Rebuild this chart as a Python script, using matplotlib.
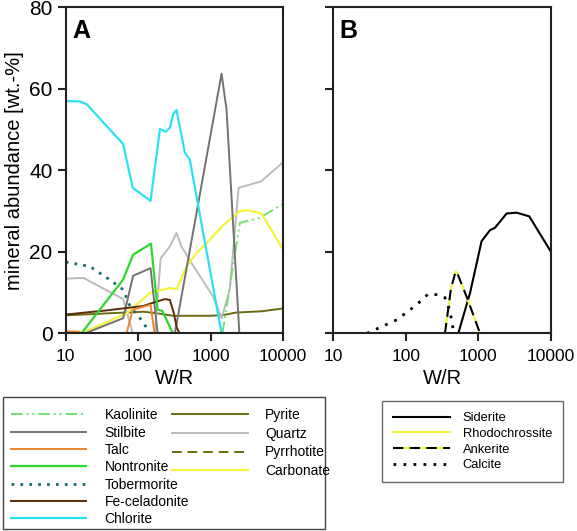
import matplotlib
matplotlib.use('Agg')
import matplotlib.pyplot as plt
from matplotlib.lines import Line2D
from matplotlib.patches import Rectangle

plt.rcParams['font.family'] = ['Liberation Sans', 'DejaVu Sans']

# === Panel A data (W/R, wt.-%) ===
kaolinite_x = [1450, 2520, 4700, 10000]
kaolinite_y = [0, 27.1, 28.3, 31.8]

stilbite_x = [18.5, 62, 85, 148, 185, 320, 1410, 1650, 2480]
stilbite_y = [0, 3.7, 14.1, 16.0, 0, 0, 63.7, 55.0, 0]

talc_x = [10, 15, 17, 69, 84, 148, 168]
talc_y = [0.5, 0.4, 0, 0, 5.8, 7.0, 0]

nontronite_x = [16.5, 62, 85, 150, 170, 185, 215, 300]
nontronite_y = [0, 13.2, 19.3, 22.0, 12.3, 5.8, 5.5, 0]

tobermorite_x = [10, 21.6, 40, 62, 77, 106, 137, 145]
tobermorite_y = [17.5, 16.4, 13.2, 10.7, 6.6, 3.7, 0.8, 0]

celadonite_x = [10, 40, 117, 180, 233, 273, 310, 340, 372]
celadonite_y = [4.6, 5.7, 6.7, 7.8, 8.4, 8.2, 4.9, 1.4, 0]

chlorite_x = [10, 15.7, 19.5, 62, 84, 148, 199, 240, 274, 304, 337, 440, 513, 1410]
chlorite_y = [57.0, 56.9, 56.2, 46.4, 35.7, 32.5, 50.1, 49.5, 50.5, 53.8, 54.8, 44.3, 42.7, 0]

pyrite_x = [10, 50, 120, 200, 300, 1000, 1500, 2250, 5000, 10000]
pyrite_y = [4.4, 5.0, 5.3, 4.8, 4.3, 4.3, 4.5, 5.1, 5.4, 6.1]

quartz_x = [10, 17.5, 62, 84, 170, 204, 273, 337, 395, 545, 1080, 1410, 1830, 2420, 4980, 10000]
quartz_y = [13.4, 13.6, 8.4, 0, 0, 18.4, 21.3, 24.6, 21.3, 17.2, 9.0, 3.7, 10.7, 35.7, 37.3, 42.0]

carbonate_x = [16.5, 69, 148, 273, 338, 464, 637, 973, 1483, 2520, 3275, 5010, 10000]
carbonate_y = [0, 4.9, 10.0, 11.1, 10.8, 16.4, 19.7, 23.0, 26.5, 30.0, 30.2, 29.4, 20.5]

# === Panel B data ===
siderite_x = [530, 770, 1110, 1450, 1700, 2460, 3380, 5050, 10000]
siderite_y = [0, 9.9, 22.6, 25.3, 25.9, 29.4, 29.6, 28.7, 20.1]

ankerite_x = [347, 420, 488, 520, 690, 1057]
ankerite_y = [0, 11.0, 15.2, 14.5, 9.0, 0]

calcite_x = [29, 75, 141, 205, 295, 345, 405, 452, 460]
calcite_y = [0, 3.3, 7.0, 9.7, 9.4, 8.8, 5.7, 0.8, 0]

xticks = [10, 100, 1000, 10000]
xticklabels = ['10', '100', '1000', '10000']
yticks = [0, 20, 40, 60, 80]

# === Styles ===
styles_a = {
    'Kaolinite': dict(color='#74e074', ls=(0, (6, 2, 1, 2, 1, 2)), lw=1.4),
    'Stilbite': dict(color='#727272', ls='-', lw=1.4),
    'Talc': dict(color='#ec8430', ls='-', lw=1.4),
    'Nontronite': dict(color='#2ed62e', ls='-', lw=1.6),
    'Tobermorite': dict(color='#177070', ls=(0, (1, 2.2)), lw=2.0),
    'Fe-celadonite': dict(color='#5a2c08', ls='-', lw=1.4),
    'Chlorite': dict(color='#2ae2f2', ls='-', lw=1.6),
    'Pyrite': dict(color='#6b6b12', ls='-', lw=1.4),
    'Quartz': dict(color='#bbbbbb', ls='-', lw=1.4),
    'Pyrrhotite': dict(color='#6b6b12', ls=(0, (5, 3)), lw=1.4),
    'Carbonate': dict(color='#f4f43c', ls='-', lw=1.6),
}

fig = plt.figure(figsize=(5.77, 5.31), dpi=100)
axA = fig.add_axes([0.1139, 0.3723, 0.377, 0.614])
axB = fig.add_axes([0.5777, 0.3723, 0.3768, 0.614])

series_a = [
    ('Pyrite', pyrite_x, pyrite_y),
    ('Quartz', quartz_x, quartz_y),
    ('Kaolinite', kaolinite_x, kaolinite_y),
    ('Carbonate', carbonate_x, carbonate_y),
    ('Tobermorite', tobermorite_x, tobermorite_y),
    ('Stilbite', stilbite_x, stilbite_y),
    ('Fe-celadonite', celadonite_x, celadonite_y),
    ('Talc', talc_x, talc_y),
    ('Nontronite', nontronite_x, nontronite_y),
    ('Chlorite', chlorite_x, chlorite_y),
]
for name, xs, ys in series_a:
    axA.plot(xs, ys, **styles_a[name])

axB.plot(siderite_x, siderite_y, color='black', lw=1.5)
axB.plot(ankerite_x, ankerite_y, color='black', ls=(0, (5, 3)), gapcolor='#f4f43c', lw=1.5)
axB.plot(calcite_x, calcite_y, color='black', ls=(0, (1, 2.6)), lw=2.0)

for ax, letter in [(axA, 'A'), (axB, 'B')]:
    ax.set_xscale('log')
    ax.set_xlim(10, 10000)
    ax.set_ylim(0, 80)
    ax.set_xticks(xticks)
    ax.set_xticklabels(xticklabels, fontsize=12.5)
    ax.minorticks_off()
    ax.set_yticks(yticks)
    ax.tick_params(direction='out', length=6, width=1.5, color='#222222')
    ax.tick_params(axis='x', pad=5)
    for s in ax.spines.values():
        s.set_linewidth(1.5)
        s.set_color('#222222')
    ax.set_xlabel('W/R', fontsize=14.5, labelpad=4)
    ax.text(0.03, 0.965, letter, transform=ax.transAxes, fontsize=18,
            fontweight='bold', va='top', ha='left')

axA.set_yticklabels([str(v) for v in yticks], fontsize=15)
axA.set_ylabel('mineral abundance [wt.-%]', fontsize=14.5, labelpad=4)
axB.set_yticklabels([])

# === Legend A (frame drawn separately) ===
fig.patches.append(Rectangle((0.0052, 0.0038), 0.5578, 0.2486, transform=fig.transFigure,
                             fill=False, edgecolor='#444444', lw=1.0))

col1 = ['Kaolinite', 'Stilbite', 'Talc', 'Nontronite', 'Tobermorite', 'Fe-celadonite', 'Chlorite']
col2 = ['Pyrite', 'Quartz', 'Pyrrhotite', 'Carbonate']

h1 = [Line2D([], [], **styles_a[n]) for n in col1]
h2 = [Line2D([], [], **styles_a[n]) for n in col2]
leg1 = fig.legend(h1, col1, loc='upper left', bbox_to_anchor=(0.0087, 0.2415), frameon=False,
                  fontsize=10, handlelength=5.4, handletextpad=1.37, labelspacing=0.24,
                  borderaxespad=0, borderpad=0.4)
leg2 = fig.legend(h2, col2, loc='upper left', bbox_to_anchor=(0.2886, 0.242), frameon=False,
                  fontsize=10, handlelength=5.47, handletextpad=1.22, labelspacing=0.34,
                  borderaxespad=0, borderpad=0.4)

# === Legend B ===
hb = [Line2D([], [], color='black', lw=1.5),
      Line2D([], [], color='#f4f43c', lw=1.5),
      Line2D([], [], color='black', ls=(0, (5, 3)), gapcolor='#f4f43c', lw=1.5),
      Line2D([], [], color='black', ls=(0, (1, 2.6)), lw=2.0)]
legB = fig.legend(hb, ['Siderite', 'Rhodochrossite', 'Ankerite', 'Calcite'],
                  loc='upper left', bbox_to_anchor=(0.662, 0.2448), frameon=True,
                  fancybox=False, edgecolor='#444444', fontsize=9.3, handlelength=4.4,
                  handletextpad=1.0, labelspacing=0.29, borderaxespad=0, borderpad=0.85)
legB.get_frame().set_linewidth(1.0)

fig.savefig('out.png', dpi=100)
